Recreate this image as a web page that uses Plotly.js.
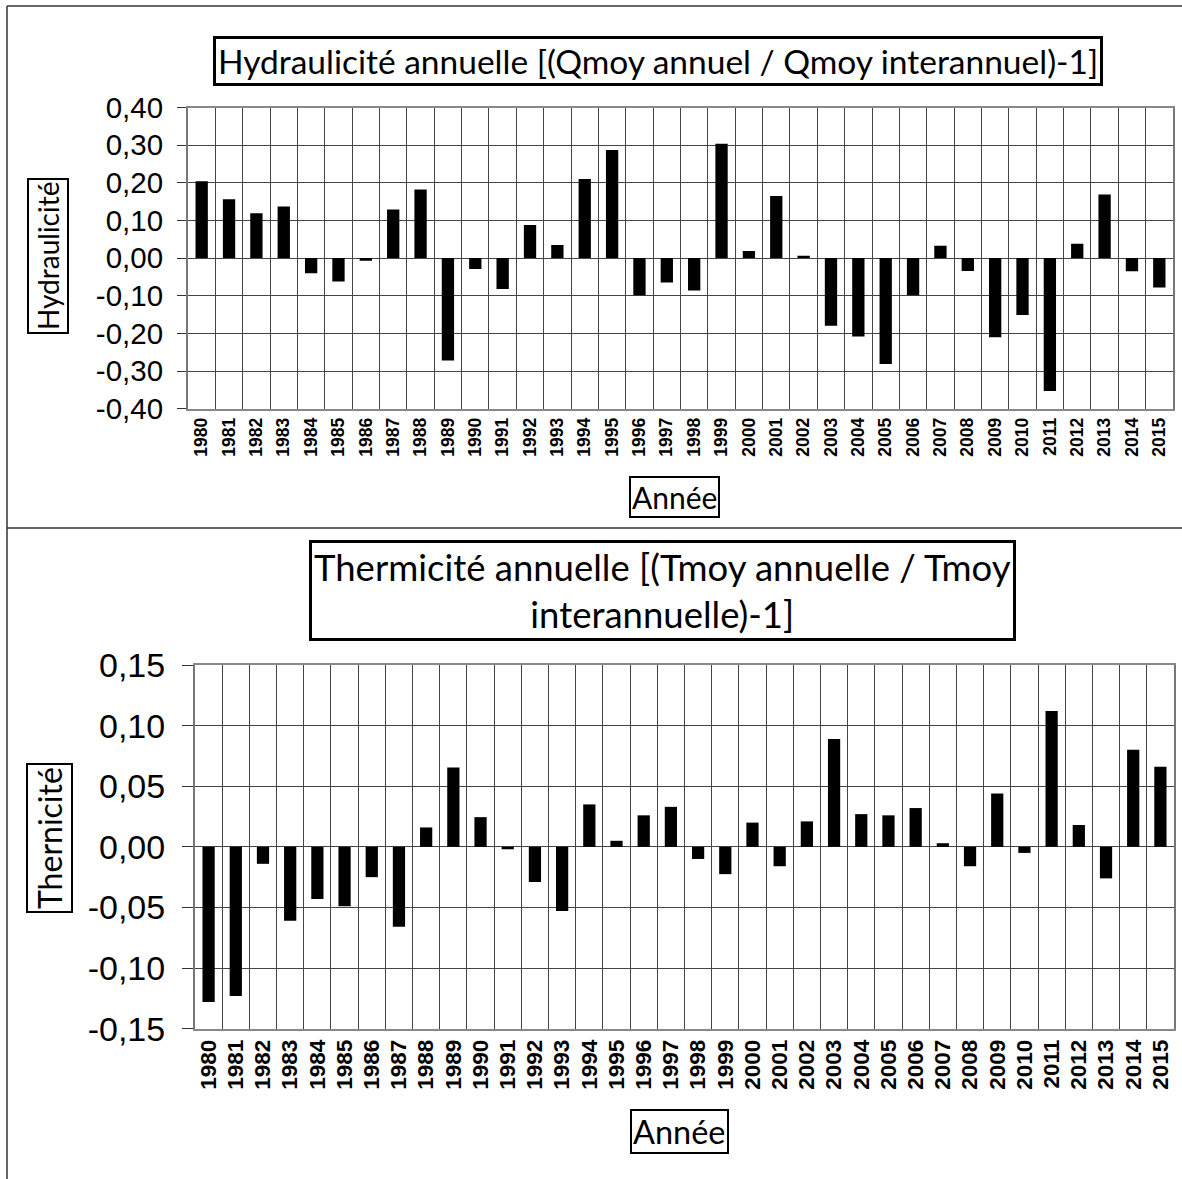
<!DOCTYPE html>
<html>
<head>
<meta charset="utf-8">
<script src="https://cdn.plot.ly/plotly-3.0.1.min.js"></script>
<style>html,body{margin:0;padding:0;background:#fff;}#chart{width:1182px;height:1179px;}</style>
</head>
<body>
<div id="chart"></div>
<script>
const years = ['1980','1981','1982','1983','1984','1985','1986','1987','1988','1989','1990','1991','1992','1993','1994','1995','1996','1997','1998','1999','2000','2001','2002','2003','2004','2005','2006','2007','2008','2009','2010','2011','2012','2013','2014','2015'];
const hydraulicite = [0.204,0.156,0.119,0.137,-0.040,-0.062,-0.007,0.129,0.182,-0.272,-0.029,-0.082,0.088,0.035,0.210,0.287,-0.099,-0.065,-0.086,0.304,0.019,0.165,0.006,-0.180,-0.208,-0.281,-0.099,0.033,-0.034,-0.210,-0.151,-0.353,0.038,0.169,-0.035,-0.078];
const thermicite = [-0.128,-0.123,-0.014,-0.061,-0.043,-0.049,-0.025,-0.066,0.016,0.0655,0.0245,-0.002,-0.029,-0.053,0.035,0.005,0.026,0.033,-0.010,-0.0225,0.020,-0.016,0.021,0.089,0.027,0.026,0.032,0.003,-0.016,0.044,-0.005,0.112,0.018,-0.026,0.080,0.066];

const yTicksTop = [-0.4,-0.3,-0.2,-0.1,0,0.1,0.2,0.3,0.4];
const yTickLabelsTop = ['-0,40','-0,30','-0,20','-0,10','0,00','0,10','0,20','0,30','0,40'];
const yTicksBottom = [-0.15,-0.1,-0.05,0,0.05,0.1,0.15];
const yTickLabelsBottom = ['-0,15','-0,10','-0,05','0,00','0,05','0,10','0,15'];

const titleTop = 'Hydraulicité annuelle [(Qmoy annuel / Qmoy interannuel)-1]';
const titleBottom = 'Thermicité annuelle [(Tmoy annuelle / Tmoy<br>interannuelle)-1]';
const yTitleTop = 'Hydraulicité';
const yTitleBottom = 'Thernicité';
const xTitle = 'Année';

const W = 1182, H = 1179;
const px = x => x / W;
const py = y => 1 - y / H;

const TXT = 'Arial, "Liberation Sans", sans-serif';
const TTL = 'Lato, "Open Sans", sans-serif';

const traces = [
  {type:'bar', x: years, y: hydraulicite, xaxis:'x', yaxis:'y', marker:{color:'#000', line:{width:0}}, hoverinfo:'x+y'},
  {type:'bar', x: years, y: thermicite, xaxis:'x2', yaxis:'y2', marker:{color:'#000', line:{width:0}}, hoverinfo:'x+y'}
];

function xax(domain, anchor, fs) {
  return {domain: domain, anchor: anchor, type:'category', tickson:'boundaries', ticks:'', showgrid:true,
    gridcolor:'#444', gridwidth:1, showline:true, mirror:true, linecolor:'#888', linewidth:2,
    tickangle:-90, tickfont:{family:TXT, size:fs, color:'#000', weight:'bold'}, fixedrange:true};
}
function yax(domain, anchor, range, vals, labels, fs, tl, standoff) {
  return {domain: domain, anchor: anchor, range: range, tickmode:'array', tickvals: vals, ticktext: labels,
    ticks:'outside', ticklen:tl, tickcolor:'#333', tickwidth:1, ticklabelstandoff: standoff,
    showgrid:true, gridcolor:'#444', gridwidth:1, zeroline:true, zerolinecolor:'#444', zerolinewidth:1,
    showline:true, mirror:true, linecolor:'#777', linewidth:2,
    tickfont:{family:TXT, size:fs, color:'#000'}, fixedrange:true};
}

const layout = {
  width: W, height: H,
  margin:{l:0, r:0, t:0, b:0},
  paper_bgcolor:'#fff', plot_bgcolor:'#fff',
  showlegend:false,
  bargap: 0.55,
  xaxis: xax([px(188), px(1173)], 'y', 17.5),
  yaxis: yax([py(408.7), py(107.5)], 'x', [-0.4, 0.4], yTicksTop, yTickLabelsTop, 29.5, 9, 8),
  xaxis2: xax([px(195), px(1174)], 'y2', 22.5),
  yaxis2: yax([py(1028.7), py(665)], 'x2', [-0.15, 0.15], yTicksBottom, yTickLabelsBottom, 34, 11, 10),
  shapes: [
    {type:'line', xref:'paper', yref:'paper', x0:px(7), x1:px(7), y0:py(6), y1:0, line:{color:'#333', width:1.5}},
    {type:'line', xref:'paper', yref:'paper', x0:px(7), x1:1, y0:py(6), y1:py(6), line:{color:'#333', width:1.5}},
    {type:'line', xref:'paper', yref:'paper', x0:px(7), x1:1, y0:py(528), y1:py(528), line:{color:'#333', width:1.5}}
  ],
  annotations: [
    {text: titleTop, xref:'paper', yref:'paper', x:px(658), y:py(61), xanchor:'center', yanchor:'middle', showarrow:false,
     font:{family:TTL, size:33.5, color:'#000'}, bordercolor:'#000', borderwidth:3, borderpad:2, bgcolor:'#fff'},
    {text: titleBottom, xref:'paper', yref:'paper', x:px(662), y:py(590), xanchor:'center', yanchor:'middle', showarrow:false,
     font:{family:TTL, size:36.5, color:'#000'}, bordercolor:'#000', borderwidth:3, borderpad:2, bgcolor:'#fff'},
    {text: yTitleTop, xref:'paper', yref:'paper', x:px(48), y:py(256), xanchor:'center', yanchor:'middle', showarrow:false, textangle:-90,
     font:{family:TTL, size:28, color:'#000'}, bordercolor:'#000', borderwidth:2, borderpad:2, bgcolor:'#fff'},
    {text: yTitleBottom, xref:'paper', yref:'paper', x:px(49), y:py(838), xanchor:'center', yanchor:'middle', showarrow:false, textangle:-90,
     font:{family:TTL, size:32, color:'#000'}, bordercolor:'#000', borderwidth:2, borderpad:2, bgcolor:'#fff'},
    {text: xTitle, xref:'paper', yref:'paper', x:px(674), y:py(497), xanchor:'center', yanchor:'middle', showarrow:false,
     font:{family:TTL, size:30, color:'#000'}, bordercolor:'#000', borderwidth:2, borderpad:1, bgcolor:'#fff'},
    {text: xTitle, xref:'paper', yref:'paper', x:px(679), y:py(1131), xanchor:'center', yanchor:'middle', showarrow:false,
     font:{family:TTL, size:32.5, color:'#000'}, bordercolor:'#000', borderwidth:2, borderpad:1, bgcolor:'#fff'}
  ]
};

Plotly.newPlot('chart', traces, layout, {displayModeBar:false, staticPlot:true});
</script>
</body>
</html>
